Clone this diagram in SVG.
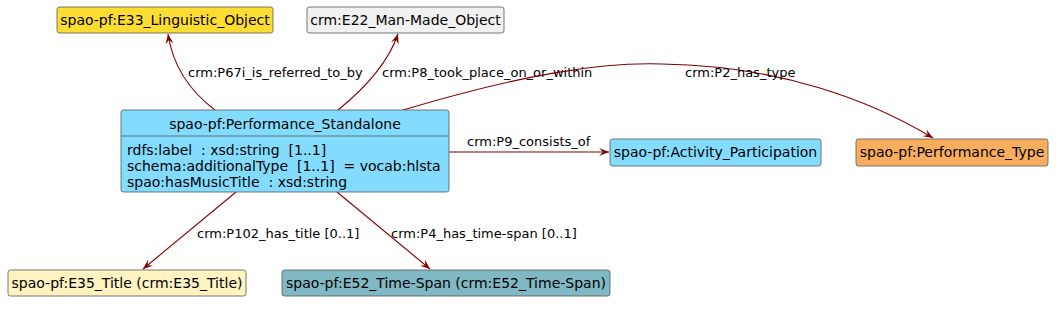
<svg xmlns="http://www.w3.org/2000/svg" width="1061" height="309" viewBox="0 0 1061 309">
<style>
.box{stroke:#555;stroke-width:0.8}
.t{font-family:"DejaVu Sans",sans-serif;font-size:14px;fill:#000;white-space:pre}
.l{font-family:"DejaVu Sans",sans-serif;font-size:13px;fill:#000}
.e{fill:none;stroke:#7F0000;stroke-width:1.1}
</style>
<defs>
<marker id="ah" viewBox="0 0 10 8" refX="10" refY="4" markerWidth="10" markerHeight="8" markerUnits="userSpaceOnUse" orient="auto">
<path d="M0,0 L10,4 L0,8 L4,4 Z" fill="#7F0000"/>
</marker>
</defs>
<rect width="1061" height="309" fill="#fff"/>
<g id="connectors">
<path class="e" d="M215,110 Q175,80 168,34" marker-end="url(#ah)"/>
<text class="l" x="188" y="77">crm:P67i_is_referred_to_by</text>
<path class="e" d="M338,110 Q385,72 398,34" marker-end="url(#ah)"/>
<text class="l" x="382" y="77">crm:P8_took_place_on_or_within</text>
<path class="e" d="M403,110 C520,75 600,62 662,64 C780,66 870,100 933,138" marker-end="url(#ah)"/>
<text class="l" x="685" y="77">crm:P2_has_type</text>
<path class="e" d="M449,152 L609,152" marker-end="url(#ah)"/>
<text class="l" x="467" y="146">crm:P9_consists_of</text>
<path class="e" d="M236,192 L143,269" marker-end="url(#ah)"/>
<text class="l" x="197" y="238">crm:P102_has_title [0..1]</text>
<path class="e" d="M337,192 L430,269" marker-end="url(#ah)"/>
<text class="l" x="391" y="238">crm:P4_has_time-span [0..1]</text>
</g>
<g id="E33_Linguistic_Object">
<rect class="box" x="57" y="7" width="216" height="26" rx="2.5" fill="#FEDD32"/>
<text class="t" x="165" y="25" text-anchor="middle">spao-pf:E33_Linguistic_Object</text>
</g>
<g id="E22_Man-Made_Object">
<rect class="box" x="307" y="7" width="197" height="26" rx="2.5" fill="#F1F1F1"/>
<text class="t" x="405.5" y="25" text-anchor="middle">crm:E22_Man-Made_Object</text>
</g>
<g id="Performance_Standalone">
<rect class="box" x="121" y="110" width="328" height="82" rx="2.5" fill="#83DCFE"/>
<line class="box" x1="121" y1="136" x2="449" y2="136"/>
<text class="t" x="285" y="129" text-anchor="middle">spao-pf:Performance_Standalone</text>
<text class="t" x="127" y="155" xml:space="preserve">rdfs:label  : xsd:string  [1..1]</text>
<text class="t" x="127" y="171" xml:space="preserve">schema:additionalType  [1..1]  = vocab:hlsta</text>
<text class="t" x="127" y="187" xml:space="preserve">spao:hasMusicTitle  : xsd:string</text>
</g>
<g id="Activity_Participation">
<rect class="box" x="610" y="139" width="211" height="27" rx="2.5" fill="#83DCFE"/>
<text class="t" x="715.5" y="157" text-anchor="middle">spao-pf:Activity_Participation</text>
</g>
<g id="Performance_Type">
<rect class="box" x="856" y="139" width="192" height="27" rx="2.5" fill="#F9AE5E"/>
<text class="t" x="952" y="157" text-anchor="middle">spao-pf:Performance_Type</text>
</g>
<g id="E35_Title">
<rect class="box" x="8" y="270" width="238" height="26" rx="2.5" fill="#FEF3C1"/>
<text class="t" x="127" y="288" text-anchor="middle">spao-pf:E35_Title (crm:E35_Title)</text>
</g>
<g id="E52_Time-Span">
<rect class="box" x="282" y="270" width="328" height="26" rx="2.5" fill="#80B8C4"/>
<text class="t" x="446" y="288" text-anchor="middle">spao-pf:E52_Time-Span (crm:E52_Time-Span)</text>
</g>
</svg>
